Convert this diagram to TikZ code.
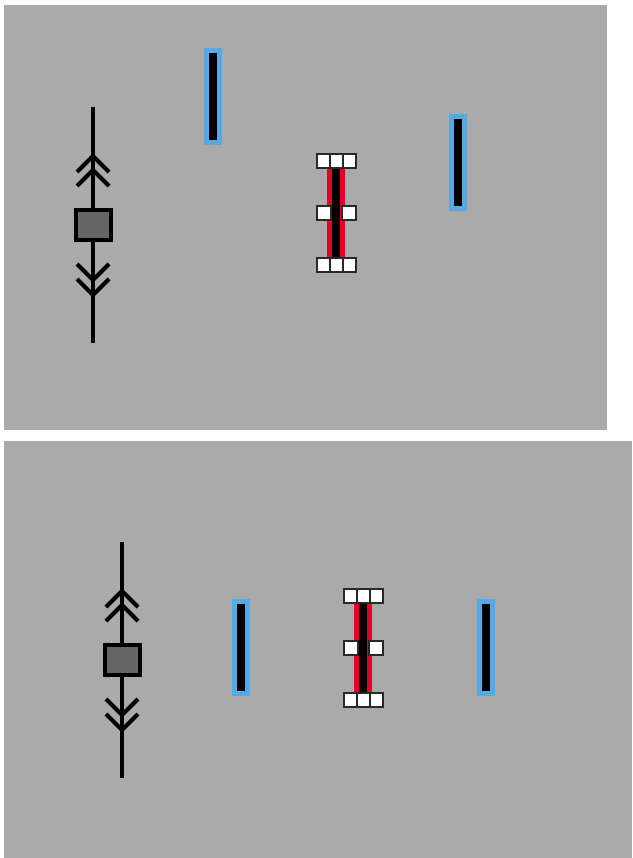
\documentclass[tikz,border=0pt]{standalone}
\usetikzlibrary{calc}
\pgfdeclarelayer{bg}
\pgfdeclarelayer{mid}
\pgfsetlayers{bg,mid,main}
\definecolor{panelgray}{RGB}{170,170,170}
\definecolor{boxgray}{RGB}{102,102,102}
\definecolor{skyblue}{RGB}{85,170,230}
\definecolor{stripred}{RGB}{232,0,40}
\definecolor{edgegray}{RGB}{40,40,40}
\tikzset{
  panel/.style={fill=panelgray,draw=none},
  axisbox/.style={draw=black,line width=4pt,fill=boxgray,minimum width=35pt,minimum height=30pt,inner sep=0pt},
  axisline/.style={draw=black,line width=4pt},
  chev/.style={draw=black,line width=4.2pt,line join=miter},
  bluebar/.style={draw=skyblue,fill=black,line width=5pt,minimum width=13pt,minimum height=92pt,inner sep=0pt},
  cell/.style={draw=edgegray,fill=white,line width=2pt,minimum width=13pt,minimum height=14.5pt,inner sep=0pt},
  midcell/.style={cell,minimum width=14pt},
  redstrip/.style={draw=stripred,line width=18pt},
  blackcore/.style={draw=black,line width=8pt},
}
\begin{document}
\begin{tikzpicture}[x=1pt,y=-1pt]
\useasboundingbox (0,0) rectangle (632,858);
\begin{pgfonlayer}{bg}
  \fill[panel] (4,5) rectangle (607,430);
  \fill[panel] (4,441) rectangle (632,858);
\end{pgfonlayer}
\foreach \p/\bx/\by/\sx/\sy/\ax/\ay/\cx/\cy in
  {1/93/225/336/213/213/96.5/457.5/162.5,
   2/122/660/363/648/241/647.5/485.5/647.5}{
  % axis with box
  \node[axisbox] (box\p) at (\bx,\by) {};
  \coordinate (top\p) at (\bx,\by-118);
  \coordinate (bot\p) at (\bx,\by+118);
  \draw[axisline] (box\p.north) -- (top\p);
  \draw[axisline] (box\p.south) -- (bot\p);
  \begin{scope}[shift={(box\p.center)}]
    \draw[chev] (-16,-53) -- (0,-69) -- (16,-53);
    \draw[chev] (-16,-39) -- (0,-55) -- (16,-39);
    \draw[chev] (-16,39) -- (0,55) -- (16,39);
    \draw[chev] (-16,54) -- (0,70) -- (16,54);
  \end{scope}
  % blue bars
  \node[bluebar] (blueA\p) at (\ax,\ay) {};
  \node[bluebar] (blueB\p) at (\cx,\cy) {};
  % strip with cells
  \node[cell] (tl\p) at (\sx-13,\sy-52) {};
  \node[cell] (tm\p) at (\sx,\sy-52) {};
  \node[cell] (tr\p) at (\sx+13,\sy-52) {};
  \node[midcell] (ml\p) at (\sx-12,\sy) {};
  \node[midcell] (mr\p) at (\sx+12.5,\sy) {};
  \node[cell] (bl\p) at (\sx-13,\sy+52) {};
  \node[cell] (bm\p) at (\sx,\sy+52) {};
  \node[cell] (br\p) at (\sx+13,\sy+52) {};
  \begin{pgfonlayer}{mid}
    \draw[redstrip] (tm\p.south) -- (bm\p.north);
    \draw[blackcore] (tm\p.south) -- (bm\p.north);
  \end{pgfonlayer}
}
\end{tikzpicture}
\end{document}
